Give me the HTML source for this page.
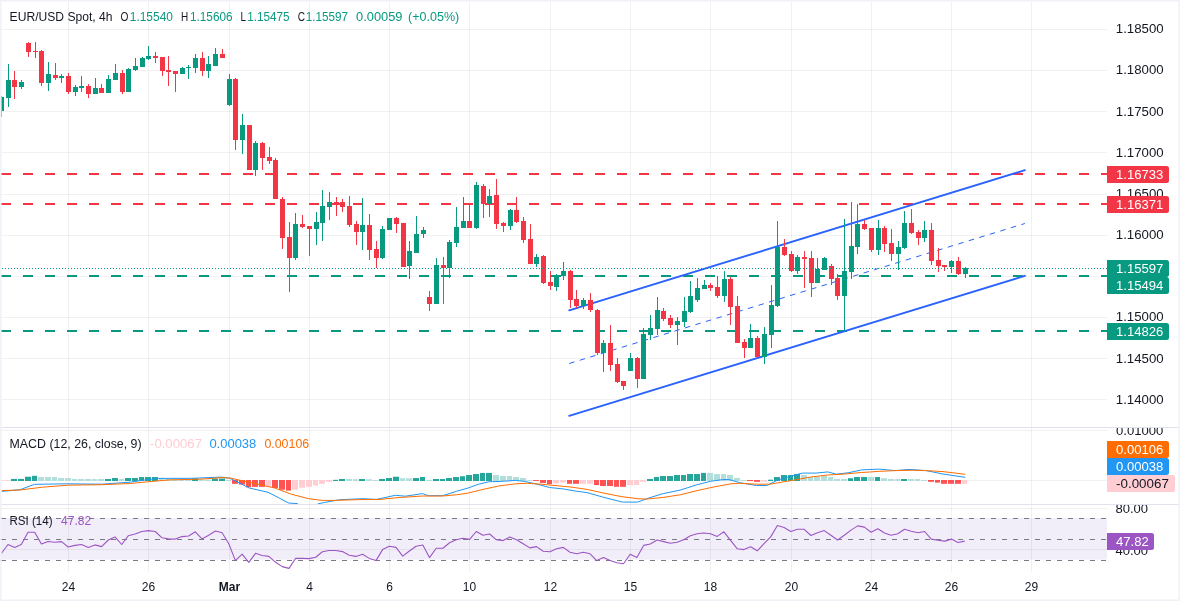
<!DOCTYPE html><html><head><meta charset="utf-8"><title>EUR/USD</title><style>html,body{margin:0;padding:0;background:#fff}body{width:1180px;height:601px;overflow:hidden;position:relative;font-family:"Liberation Sans",sans-serif}</style></head><body><svg width="1180" height="601" viewBox="0 0 1180 601" style="position:absolute;left:0;top:0;will-change:transform">
<defs>
<clipPath id="cm"><rect x="0" y="2" width="1107" height="425"/></clipPath>
<clipPath id="cd"><rect x="0" y="428" width="1107" height="76"/></clipPath>
<clipPath id="cr"><rect x="0" y="505" width="1107" height="67"/></clipPath>
<clipPath id="cs1"><rect x="1107" y="428" width="73" height="76"/></clipPath>
<clipPath id="cs2"><rect x="1107" y="505" width="73" height="67"/></clipPath>
</defs>
<rect width="1180" height="601" fill="#fff"/>
<g shape-rendering="crispEdges" fill="rgba(42,46,57,0.065)">
<rect x="68" y="2" width="1" height="570"/>
<rect x="148" y="2" width="1" height="570"/>
<rect x="229" y="2" width="1" height="570"/>
<rect x="309" y="2" width="1" height="570"/>
<rect x="389" y="2" width="1" height="570"/>
<rect x="469" y="2" width="1" height="570"/>
<rect x="550" y="2" width="1" height="570"/>
<rect x="630" y="2" width="1" height="570"/>
<rect x="710" y="2" width="1" height="570"/>
<rect x="791" y="2" width="1" height="570"/>
<rect x="871" y="2" width="1" height="570"/>
<rect x="951" y="2" width="1" height="570"/>
<rect x="1031" y="2" width="1" height="570"/>
<rect x="0" y="29" width="1107" height="1"/>
<rect x="0" y="70" width="1107" height="1"/>
<rect x="0" y="111" width="1107" height="1"/>
<rect x="0" y="152" width="1107" height="1"/>
<rect x="0" y="194" width="1107" height="1"/>
<rect x="0" y="235" width="1107" height="1"/>
<rect x="0" y="276" width="1107" height="1"/>
<rect x="0" y="317" width="1107" height="1"/>
<rect x="0" y="358" width="1107" height="1"/>
<rect x="0" y="399" width="1107" height="1"/>
<rect x="0" y="430" width="1107" height="1"/>
<rect x="0" y="480" width="1107" height="1"/>
<rect x="0" y="508" width="1107" height="1"/>
<rect x="0" y="549" width="1107" height="1"/>
</g>
<rect x="0" y="518" width="1107" height="41.6" fill="#f2eef9"/>
<rect x="0" y="549" width="1107" height="1" fill="rgba(42,46,57,0.065)" shape-rendering="crispEdges"/>
<g shape-rendering="crispEdges" fill="rgba(42,46,57,0.065)">
<rect x="68" y="518" width="1" height="42"/>
<rect x="148" y="518" width="1" height="42"/>
<rect x="229" y="518" width="1" height="42"/>
<rect x="309" y="518" width="1" height="42"/>
<rect x="389" y="518" width="1" height="42"/>
<rect x="469" y="518" width="1" height="42"/>
<rect x="550" y="518" width="1" height="42"/>
<rect x="630" y="518" width="1" height="42"/>
<rect x="710" y="518" width="1" height="42"/>
<rect x="791" y="518" width="1" height="42"/>
<rect x="871" y="518" width="1" height="42"/>
<rect x="951" y="518" width="1" height="42"/>
<rect x="1031" y="518" width="1" height="42"/>
</g>
<line x1="1" y1="518.5" x2="1107" y2="518.5" stroke="#787B86" stroke-width="1" stroke-dasharray="5 6" shape-rendering="crispEdges"/>
<line x1="1" y1="539.5" x2="1107" y2="539.5" stroke="#787B86" stroke-width="1" stroke-dasharray="5 6" shape-rendering="crispEdges"/>
<line x1="1" y1="560.5" x2="1107" y2="560.5" stroke="#787B86" stroke-width="1" stroke-dasharray="5 6" shape-rendering="crispEdges"/>
<line x1="1" y1="174" x2="1107" y2="174" stroke="#F23645" stroke-width="2" stroke-dasharray="10 12" shape-rendering="crispEdges"/>
<line x1="1" y1="204" x2="1107" y2="204" stroke="#F23645" stroke-width="2" stroke-dasharray="10 12" shape-rendering="crispEdges"/>
<line x1="1" y1="276" x2="1107" y2="276" stroke="#089981" stroke-width="2" stroke-dasharray="10 12" shape-rendering="crispEdges"/>
<line x1="1" y1="331" x2="1107" y2="331" stroke="#089981" stroke-width="2" stroke-dasharray="10 12" shape-rendering="crispEdges"/>
<g clip-path="url(#cm)">
<line x1="569.2" y1="310.3" x2="1024.9" y2="170.2" stroke="#2962FF" stroke-width="1.9" stroke-linecap="round"/>
<line x1="569.2" y1="415.8" x2="1024.9" y2="275.8" stroke="#2962FF" stroke-width="1.9" stroke-linecap="round"/>
<line x1="569.2" y1="363.5" x2="1024.9" y2="223.5" stroke="#2962FF" stroke-width="1" stroke-dasharray="5.5 5.5"/>
</g>
<g shape-rendering="crispEdges">
<rect x="1" y="96" width="1" height="21" fill="#089981"/>
<rect x="-1" y="97" width="5" height="14" fill="#089981"/>
<rect x="8" y="64" width="1" height="43" fill="#089981"/>
<rect x="6" y="80" width="5" height="18" fill="#089981"/>
<rect x="14" y="71" width="1" height="28" fill="#F23645"/>
<rect x="12" y="80" width="5" height="7" fill="#F23645"/>
<rect x="21" y="80" width="1" height="9" fill="#089981"/>
<rect x="19" y="82" width="5" height="5" fill="#089981"/>
<rect x="28" y="42" width="1" height="15" fill="#F23645"/>
<rect x="26" y="43" width="5" height="9" fill="#F23645"/>
<rect x="35" y="42" width="1" height="16" fill="#F23645"/>
<rect x="33" y="51" width="5" height="1" fill="#F23645"/>
<rect x="41" y="50" width="1" height="36" fill="#F23645"/>
<rect x="39" y="51" width="5" height="32" fill="#F23645"/>
<rect x="48" y="62" width="1" height="29" fill="#089981"/>
<rect x="46" y="74" width="5" height="9" fill="#089981"/>
<rect x="55" y="63" width="1" height="17" fill="#F23645"/>
<rect x="53" y="75" width="5" height="3" fill="#F23645"/>
<rect x="61" y="74" width="1" height="9" fill="#089981"/>
<rect x="59" y="76" width="5" height="2" fill="#089981"/>
<rect x="68" y="73" width="1" height="21" fill="#F23645"/>
<rect x="66" y="76" width="5" height="16" fill="#F23645"/>
<rect x="75" y="85" width="1" height="11" fill="#089981"/>
<rect x="73" y="87" width="5" height="5" fill="#089981"/>
<rect x="81" y="76" width="1" height="16" fill="#089981"/>
<rect x="79" y="86" width="5" height="2" fill="#089981"/>
<rect x="88" y="84" width="1" height="14" fill="#F23645"/>
<rect x="86" y="86" width="5" height="8" fill="#F23645"/>
<rect x="95" y="78" width="1" height="16" fill="#089981"/>
<rect x="93" y="88" width="5" height="6" fill="#089981"/>
<rect x="101" y="84" width="1" height="9" fill="#F23645"/>
<rect x="99" y="88" width="5" height="5" fill="#F23645"/>
<rect x="108" y="75" width="1" height="18" fill="#089981"/>
<rect x="106" y="79" width="5" height="14" fill="#089981"/>
<rect x="115" y="64" width="1" height="16" fill="#089981"/>
<rect x="113" y="73" width="5" height="7" fill="#089981"/>
<rect x="122" y="70" width="1" height="24" fill="#F23645"/>
<rect x="120" y="73" width="5" height="19" fill="#F23645"/>
<rect x="128" y="68" width="1" height="24" fill="#089981"/>
<rect x="126" y="69" width="5" height="23" fill="#089981"/>
<rect x="135" y="58" width="1" height="13" fill="#089981"/>
<rect x="133" y="66" width="5" height="4" fill="#089981"/>
<rect x="142" y="57" width="1" height="10" fill="#089981"/>
<rect x="140" y="58" width="5" height="9" fill="#089981"/>
<rect x="148" y="46" width="1" height="14" fill="#089981"/>
<rect x="146" y="56" width="5" height="3" fill="#089981"/>
<rect x="155" y="52" width="1" height="11" fill="#F23645"/>
<rect x="153" y="56" width="5" height="2" fill="#F23645"/>
<rect x="162" y="57" width="1" height="19" fill="#F23645"/>
<rect x="160" y="57" width="5" height="14" fill="#F23645"/>
<rect x="168" y="56" width="1" height="30" fill="#F23645"/>
<rect x="166" y="70" width="5" height="2" fill="#F23645"/>
<rect x="175" y="71" width="1" height="21" fill="#F23645"/>
<rect x="173" y="71" width="5" height="3" fill="#F23645"/>
<rect x="182" y="67" width="1" height="7" fill="#089981"/>
<rect x="180" y="68" width="5" height="6" fill="#089981"/>
<rect x="188" y="65" width="1" height="14" fill="#089981"/>
<rect x="186" y="67" width="5" height="1" fill="#089981"/>
<rect x="195" y="54" width="1" height="19" fill="#089981"/>
<rect x="193" y="58" width="5" height="10" fill="#089981"/>
<rect x="202" y="52" width="1" height="24" fill="#F23645"/>
<rect x="200" y="58" width="5" height="13" fill="#F23645"/>
<rect x="208" y="56" width="1" height="22" fill="#089981"/>
<rect x="206" y="64" width="5" height="7" fill="#089981"/>
<rect x="215" y="48" width="1" height="18" fill="#089981"/>
<rect x="213" y="54" width="5" height="12" fill="#089981"/>
<rect x="222" y="49" width="1" height="9" fill="#F23645"/>
<rect x="220" y="54" width="5" height="4" fill="#F23645"/>
<rect x="229" y="74" width="1" height="32" fill="#089981"/>
<rect x="227" y="79" width="5" height="26" fill="#089981"/>
<rect x="235" y="78" width="1" height="72" fill="#F23645"/>
<rect x="233" y="79" width="5" height="61" fill="#F23645"/>
<rect x="242" y="114" width="1" height="40" fill="#089981"/>
<rect x="240" y="125" width="5" height="15" fill="#089981"/>
<rect x="249" y="125" width="1" height="45" fill="#F23645"/>
<rect x="247" y="125" width="5" height="45" fill="#F23645"/>
<rect x="255" y="141" width="1" height="35" fill="#089981"/>
<rect x="253" y="143" width="5" height="27" fill="#089981"/>
<rect x="262" y="142" width="1" height="28" fill="#F23645"/>
<rect x="260" y="143" width="5" height="15" fill="#F23645"/>
<rect x="269" y="147" width="1" height="17" fill="#F23645"/>
<rect x="267" y="157" width="5" height="4" fill="#F23645"/>
<rect x="275" y="158" width="1" height="41" fill="#F23645"/>
<rect x="273" y="160" width="5" height="39" fill="#F23645"/>
<rect x="282" y="197" width="1" height="52" fill="#F23645"/>
<rect x="280" y="199" width="5" height="39" fill="#F23645"/>
<rect x="289" y="222" width="1" height="70" fill="#F23645"/>
<rect x="287" y="237" width="5" height="21" fill="#F23645"/>
<rect x="295" y="213" width="1" height="47" fill="#089981"/>
<rect x="293" y="224" width="5" height="34" fill="#089981"/>
<rect x="302" y="215" width="1" height="13" fill="#F23645"/>
<rect x="300" y="224" width="5" height="3" fill="#F23645"/>
<rect x="309" y="226" width="1" height="30" fill="#F23645"/>
<rect x="307" y="226" width="5" height="3" fill="#F23645"/>
<rect x="316" y="212" width="1" height="33" fill="#089981"/>
<rect x="314" y="222" width="5" height="7" fill="#089981"/>
<rect x="322" y="190" width="1" height="51" fill="#089981"/>
<rect x="320" y="206" width="5" height="17" fill="#089981"/>
<rect x="329" y="192" width="1" height="28" fill="#089981"/>
<rect x="327" y="202" width="5" height="5" fill="#089981"/>
<rect x="336" y="197" width="1" height="19" fill="#F23645"/>
<rect x="334" y="202" width="5" height="3" fill="#F23645"/>
<rect x="342" y="199" width="1" height="13" fill="#F23645"/>
<rect x="340" y="202" width="5" height="5" fill="#F23645"/>
<rect x="349" y="196" width="1" height="31" fill="#F23645"/>
<rect x="347" y="206" width="5" height="19" fill="#F23645"/>
<rect x="356" y="221" width="1" height="24" fill="#F23645"/>
<rect x="354" y="224" width="5" height="8" fill="#F23645"/>
<rect x="362" y="198" width="1" height="52" fill="#089981"/>
<rect x="360" y="225" width="5" height="7" fill="#089981"/>
<rect x="369" y="214" width="1" height="46" fill="#F23645"/>
<rect x="367" y="225" width="5" height="25" fill="#F23645"/>
<rect x="376" y="241" width="1" height="27" fill="#F23645"/>
<rect x="374" y="249" width="5" height="9" fill="#F23645"/>
<rect x="382" y="226" width="1" height="33" fill="#089981"/>
<rect x="380" y="229" width="5" height="29" fill="#089981"/>
<rect x="389" y="218" width="1" height="12" fill="#089981"/>
<rect x="387" y="218" width="5" height="12" fill="#089981"/>
<rect x="396" y="217" width="1" height="16" fill="#F23645"/>
<rect x="394" y="218" width="5" height="6" fill="#F23645"/>
<rect x="403" y="223" width="1" height="44" fill="#F23645"/>
<rect x="401" y="223" width="5" height="44" fill="#F23645"/>
<rect x="409" y="241" width="1" height="38" fill="#089981"/>
<rect x="407" y="251" width="5" height="15" fill="#089981"/>
<rect x="416" y="216" width="1" height="37" fill="#089981"/>
<rect x="414" y="234" width="5" height="19" fill="#089981"/>
<rect x="423" y="227" width="1" height="11" fill="#089981"/>
<rect x="421" y="230" width="5" height="4" fill="#089981"/>
<rect x="429" y="291" width="1" height="20" fill="#F23645"/>
<rect x="427" y="297" width="5" height="7" fill="#F23645"/>
<rect x="436" y="258" width="1" height="46" fill="#089981"/>
<rect x="434" y="265" width="5" height="39" fill="#089981"/>
<rect x="443" y="257" width="1" height="47" fill="#F23645"/>
<rect x="441" y="265" width="5" height="3" fill="#F23645"/>
<rect x="449" y="240" width="1" height="38" fill="#089981"/>
<rect x="447" y="242" width="5" height="26" fill="#089981"/>
<rect x="456" y="207" width="1" height="40" fill="#089981"/>
<rect x="454" y="227" width="5" height="16" fill="#089981"/>
<rect x="463" y="197" width="1" height="31" fill="#089981"/>
<rect x="461" y="221" width="5" height="7" fill="#089981"/>
<rect x="469" y="204" width="1" height="24" fill="#F23645"/>
<rect x="467" y="221" width="5" height="7" fill="#F23645"/>
<rect x="476" y="182" width="1" height="47" fill="#089981"/>
<rect x="474" y="185" width="5" height="43" fill="#089981"/>
<rect x="483" y="184" width="1" height="34" fill="#F23645"/>
<rect x="481" y="186" width="5" height="18" fill="#F23645"/>
<rect x="489" y="189" width="1" height="28" fill="#089981"/>
<rect x="487" y="196" width="5" height="8" fill="#089981"/>
<rect x="496" y="179" width="1" height="50" fill="#F23645"/>
<rect x="494" y="195" width="5" height="29" fill="#F23645"/>
<rect x="503" y="222" width="1" height="10" fill="#F23645"/>
<rect x="501" y="223" width="5" height="3" fill="#F23645"/>
<rect x="510" y="209" width="1" height="21" fill="#089981"/>
<rect x="508" y="210" width="5" height="16" fill="#089981"/>
<rect x="516" y="197" width="1" height="26" fill="#F23645"/>
<rect x="514" y="210" width="5" height="12" fill="#F23645"/>
<rect x="523" y="217" width="1" height="26" fill="#F23645"/>
<rect x="521" y="221" width="5" height="19" fill="#F23645"/>
<rect x="530" y="224" width="1" height="40" fill="#F23645"/>
<rect x="528" y="239" width="5" height="25" fill="#F23645"/>
<rect x="536" y="254" width="1" height="13" fill="#089981"/>
<rect x="534" y="257" width="5" height="7" fill="#089981"/>
<rect x="543" y="255" width="1" height="29" fill="#F23645"/>
<rect x="541" y="256" width="5" height="27" fill="#F23645"/>
<rect x="550" y="271" width="1" height="19" fill="#F23645"/>
<rect x="548" y="282" width="5" height="4" fill="#F23645"/>
<rect x="556" y="274" width="1" height="17" fill="#089981"/>
<rect x="554" y="275" width="5" height="12" fill="#089981"/>
<rect x="563" y="262" width="1" height="18" fill="#089981"/>
<rect x="561" y="271" width="5" height="5" fill="#089981"/>
<rect x="570" y="270" width="1" height="38" fill="#F23645"/>
<rect x="568" y="271" width="5" height="29" fill="#F23645"/>
<rect x="576" y="290" width="1" height="18" fill="#F23645"/>
<rect x="574" y="299" width="5" height="7" fill="#F23645"/>
<rect x="583" y="298" width="1" height="11" fill="#089981"/>
<rect x="581" y="300" width="5" height="6" fill="#089981"/>
<rect x="590" y="293" width="1" height="19" fill="#F23645"/>
<rect x="588" y="300" width="5" height="10" fill="#F23645"/>
<rect x="597" y="309" width="1" height="46" fill="#F23645"/>
<rect x="595" y="310" width="5" height="43" fill="#F23645"/>
<rect x="603" y="340" width="1" height="32" fill="#089981"/>
<rect x="601" y="343" width="5" height="10" fill="#089981"/>
<rect x="610" y="325" width="1" height="46" fill="#F23645"/>
<rect x="608" y="343" width="5" height="22" fill="#F23645"/>
<rect x="617" y="358" width="1" height="25" fill="#F23645"/>
<rect x="615" y="364" width="5" height="18" fill="#F23645"/>
<rect x="623" y="381" width="1" height="9" fill="#F23645"/>
<rect x="621" y="381" width="5" height="5" fill="#F23645"/>
<rect x="630" y="353" width="1" height="18" fill="#089981"/>
<rect x="628" y="358" width="5" height="13" fill="#089981"/>
<rect x="637" y="357" width="1" height="31" fill="#F23645"/>
<rect x="635" y="358" width="5" height="21" fill="#F23645"/>
<rect x="643" y="328" width="1" height="51" fill="#089981"/>
<rect x="641" y="334" width="5" height="45" fill="#089981"/>
<rect x="650" y="315" width="1" height="25" fill="#089981"/>
<rect x="648" y="328" width="5" height="7" fill="#089981"/>
<rect x="657" y="297" width="1" height="38" fill="#089981"/>
<rect x="655" y="310" width="5" height="19" fill="#089981"/>
<rect x="663" y="308" width="1" height="13" fill="#F23645"/>
<rect x="661" y="311" width="5" height="8" fill="#F23645"/>
<rect x="670" y="315" width="1" height="13" fill="#F23645"/>
<rect x="668" y="318" width="5" height="7" fill="#F23645"/>
<rect x="677" y="317" width="1" height="28" fill="#089981"/>
<rect x="675" y="321" width="5" height="4" fill="#089981"/>
<rect x="684" y="297" width="1" height="30" fill="#089981"/>
<rect x="682" y="311" width="5" height="11" fill="#089981"/>
<rect x="690" y="281" width="1" height="32" fill="#089981"/>
<rect x="688" y="296" width="5" height="16" fill="#089981"/>
<rect x="697" y="278" width="1" height="24" fill="#089981"/>
<rect x="695" y="288" width="5" height="12" fill="#089981"/>
<rect x="704" y="280" width="1" height="9" fill="#089981"/>
<rect x="702" y="285" width="5" height="4" fill="#089981"/>
<rect x="710" y="283" width="1" height="8" fill="#F23645"/>
<rect x="708" y="285" width="5" height="3" fill="#F23645"/>
<rect x="717" y="276" width="1" height="22" fill="#F23645"/>
<rect x="715" y="287" width="5" height="9" fill="#F23645"/>
<rect x="724" y="271" width="1" height="31" fill="#089981"/>
<rect x="722" y="279" width="5" height="17" fill="#089981"/>
<rect x="730" y="277" width="1" height="48" fill="#F23645"/>
<rect x="728" y="279" width="5" height="28" fill="#F23645"/>
<rect x="737" y="296" width="1" height="47" fill="#F23645"/>
<rect x="735" y="306" width="5" height="37" fill="#F23645"/>
<rect x="744" y="339" width="1" height="19" fill="#F23645"/>
<rect x="742" y="342" width="5" height="6" fill="#F23645"/>
<rect x="750" y="324" width="1" height="24" fill="#089981"/>
<rect x="748" y="338" width="5" height="10" fill="#089981"/>
<rect x="757" y="336" width="1" height="21" fill="#F23645"/>
<rect x="755" y="338" width="5" height="19" fill="#F23645"/>
<rect x="764" y="327" width="1" height="37" fill="#089981"/>
<rect x="762" y="334" width="5" height="23" fill="#089981"/>
<rect x="771" y="285" width="1" height="63" fill="#089981"/>
<rect x="769" y="305" width="5" height="30" fill="#089981"/>
<rect x="777" y="221" width="1" height="86" fill="#089981"/>
<rect x="775" y="247" width="5" height="59" fill="#089981"/>
<rect x="784" y="239" width="1" height="17" fill="#F23645"/>
<rect x="782" y="247" width="5" height="8" fill="#F23645"/>
<rect x="791" y="251" width="1" height="21" fill="#F23645"/>
<rect x="789" y="254" width="5" height="17" fill="#F23645"/>
<rect x="797" y="255" width="1" height="19" fill="#089981"/>
<rect x="795" y="257" width="5" height="14" fill="#089981"/>
<rect x="804" y="251" width="1" height="37" fill="#F23645"/>
<rect x="802" y="257" width="5" height="2" fill="#F23645"/>
<rect x="811" y="251" width="1" height="46" fill="#F23645"/>
<rect x="809" y="258" width="5" height="25" fill="#F23645"/>
<rect x="817" y="258" width="1" height="25" fill="#089981"/>
<rect x="815" y="269" width="5" height="14" fill="#089981"/>
<rect x="824" y="257" width="1" height="13" fill="#089981"/>
<rect x="822" y="258" width="5" height="12" fill="#089981"/>
<rect x="831" y="264" width="1" height="21" fill="#F23645"/>
<rect x="829" y="266" width="5" height="13" fill="#F23645"/>
<rect x="837" y="274" width="1" height="26" fill="#F23645"/>
<rect x="835" y="278" width="5" height="18" fill="#F23645"/>
<rect x="844" y="219" width="1" height="112" fill="#089981"/>
<rect x="842" y="271" width="5" height="25" fill="#089981"/>
<rect x="851" y="202" width="1" height="77" fill="#089981"/>
<rect x="849" y="246" width="5" height="26" fill="#089981"/>
<rect x="857" y="204" width="1" height="50" fill="#089981"/>
<rect x="855" y="224" width="5" height="23" fill="#089981"/>
<rect x="864" y="220" width="1" height="10" fill="#F23645"/>
<rect x="862" y="224" width="5" height="5" fill="#F23645"/>
<rect x="871" y="228" width="1" height="24" fill="#F23645"/>
<rect x="869" y="228" width="5" height="22" fill="#F23645"/>
<rect x="878" y="220" width="1" height="35" fill="#089981"/>
<rect x="876" y="228" width="5" height="22" fill="#089981"/>
<rect x="884" y="226" width="1" height="26" fill="#F23645"/>
<rect x="882" y="228" width="5" height="16" fill="#F23645"/>
<rect x="891" y="229" width="1" height="32" fill="#F23645"/>
<rect x="889" y="243" width="5" height="11" fill="#F23645"/>
<rect x="898" y="241" width="1" height="29" fill="#089981"/>
<rect x="896" y="247" width="5" height="7" fill="#089981"/>
<rect x="904" y="211" width="1" height="38" fill="#089981"/>
<rect x="902" y="223" width="5" height="25" fill="#089981"/>
<rect x="911" y="209" width="1" height="25" fill="#F23645"/>
<rect x="909" y="223" width="5" height="10" fill="#F23645"/>
<rect x="918" y="230" width="1" height="15" fill="#F23645"/>
<rect x="916" y="232" width="5" height="6" fill="#F23645"/>
<rect x="924" y="221" width="1" height="21" fill="#089981"/>
<rect x="922" y="230" width="5" height="8" fill="#089981"/>
<rect x="931" y="223" width="1" height="42" fill="#F23645"/>
<rect x="929" y="230" width="5" height="31" fill="#F23645"/>
<rect x="938" y="248" width="1" height="24" fill="#F23645"/>
<rect x="936" y="260" width="5" height="6" fill="#F23645"/>
<rect x="944" y="265" width="1" height="6" fill="#F23645"/>
<rect x="942" y="265" width="5" height="2" fill="#F23645"/>
<rect x="951" y="260" width="1" height="13" fill="#089981"/>
<rect x="949" y="261" width="5" height="6" fill="#089981"/>
<rect x="958" y="257" width="1" height="18" fill="#F23645"/>
<rect x="956" y="261" width="5" height="13" fill="#F23645"/>
<rect x="965" y="267" width="1" height="11" fill="#089981"/>
<rect x="963" y="268" width="5" height="6" fill="#089981"/>
</g>
<line x1="2" y1="268.5" x2="1107" y2="268.5" stroke="#089981" stroke-width="1" stroke-dasharray="1 2" shape-rendering="crispEdges"/>
<g clip-path="url(#cd)">
<rect x="-2" y="480" width="6" height="0.82" fill="#FFCDD2"/>
<rect x="5" y="480" width="5" height="0.72" fill="#FFCDD2"/>
<rect x="11" y="478.92" width="6" height="2.08" fill="#26A69A"/>
<rect x="18" y="478.92" width="6" height="2.08" fill="#26A69A"/>
<rect x="25" y="476.72" width="6" height="4.28" fill="#26A69A"/>
<rect x="32" y="475.82" width="5" height="5.18" fill="#26A69A"/>
<rect x="38" y="477.02" width="6" height="3.98" fill="#B2DFDB"/>
<rect x="45" y="477.02" width="6" height="3.98" fill="#B2DFDB"/>
<rect x="52" y="477.02" width="5" height="3.98" fill="#B2DFDB"/>
<rect x="58" y="478.02" width="6" height="2.98" fill="#B2DFDB"/>
<rect x="65" y="478.02" width="6" height="2.98" fill="#B2DFDB"/>
<rect x="72" y="479.02" width="5" height="1.98" fill="#B2DFDB"/>
<rect x="78" y="479.02" width="6" height="1.98" fill="#B2DFDB"/>
<rect x="85" y="479.02" width="6" height="1.98" fill="#B2DFDB"/>
<rect x="92" y="479.02" width="5" height="1.98" fill="#B2DFDB"/>
<rect x="98" y="479.02" width="6" height="1.98" fill="#B2DFDB"/>
<rect x="105" y="479.02" width="6" height="1.98" fill="#26A69A"/>
<rect x="112" y="478.02" width="6" height="2.98" fill="#26A69A"/>
<rect x="119" y="479.02" width="5" height="1.98" fill="#B2DFDB"/>
<rect x="125" y="478.02" width="6" height="2.98" fill="#26A69A"/>
<rect x="132" y="478.02" width="6" height="2.98" fill="#26A69A"/>
<rect x="139" y="477.02" width="5" height="3.98" fill="#26A69A"/>
<rect x="145" y="477.02" width="6" height="3.98" fill="#26A69A"/>
<rect x="152" y="477.02" width="6" height="3.98" fill="#26A69A"/>
<rect x="159" y="477.92" width="5" height="3.08" fill="#B2DFDB"/>
<rect x="165" y="478.92" width="6" height="2.08" fill="#B2DFDB"/>
<rect x="172" y="479.42" width="6" height="1.58" fill="#B2DFDB"/>
<rect x="179" y="479.62" width="5" height="1.38" fill="#B2DFDB"/>
<rect x="185" y="479.82" width="6" height="1.18" fill="#B2DFDB"/>
<rect x="192" y="478.52" width="6" height="2.48" fill="#26A69A"/>
<rect x="199" y="479.42" width="5" height="1.58" fill="#B2DFDB"/>
<rect x="205" y="479.62" width="6" height="1.38" fill="#B2DFDB"/>
<rect x="212" y="478.52" width="6" height="2.48" fill="#26A69A"/>
<rect x="219" y="478.52" width="6" height="2.48" fill="#26A69A"/>
<rect x="226" y="479.92" width="5" height="1.08" fill="#B2DFDB"/>
<rect x="232" y="480" width="6" height="3.82" fill="#FF5252"/>
<rect x="239" y="480" width="6" height="4.62" fill="#FF5252"/>
<rect x="246" y="480" width="5" height="7.22" fill="#FF5252"/>
<rect x="252" y="480" width="6" height="6.82" fill="#FF5252"/>
<rect x="259" y="480" width="6" height="6.82" fill="#FF5252"/>
<rect x="266" y="480" width="5" height="6.32" fill="#FFCDD2"/>
<rect x="272" y="480" width="6" height="8.02" fill="#FF5252"/>
<rect x="279" y="480" width="6" height="9.72" fill="#FF5252"/>
<rect x="286" y="480" width="5" height="10.62" fill="#FF5252"/>
<rect x="292" y="480" width="6" height="9.72" fill="#FFCDD2"/>
<rect x="299" y="480" width="6" height="7.72" fill="#FFCDD2"/>
<rect x="306" y="480" width="6" height="6.82" fill="#FFCDD2"/>
<rect x="313" y="480" width="5" height="5.52" fill="#FFCDD2"/>
<rect x="319" y="480" width="6" height="3.82" fill="#FFCDD2"/>
<rect x="326" y="480" width="6" height="1.82" fill="#FFCDD2"/>
<rect x="333" y="479.82" width="5" height="1.18" fill="#26A69A"/>
<rect x="339" y="479.02" width="6" height="1.98" fill="#26A69A"/>
<rect x="346" y="479.02" width="6" height="1.98" fill="#B2DFDB"/>
<rect x="353" y="479.22" width="5" height="1.78" fill="#B2DFDB"/>
<rect x="359" y="479.02" width="6" height="1.98" fill="#26A69A"/>
<rect x="366" y="479.22" width="6" height="1.78" fill="#B2DFDB"/>
<rect x="373" y="480.02" width="5" height="0.98" fill="#B2DFDB"/>
<rect x="379" y="479.02" width="6" height="1.98" fill="#26A69A"/>
<rect x="386" y="478.02" width="6" height="2.98" fill="#26A69A"/>
<rect x="393" y="476.72" width="6" height="4.28" fill="#26A69A"/>
<rect x="400" y="478.22" width="5" height="2.78" fill="#B2DFDB"/>
<rect x="406" y="478.22" width="6" height="2.78" fill="#B2DFDB"/>
<rect x="413" y="478.02" width="6" height="2.98" fill="#26A69A"/>
<rect x="420" y="477.02" width="5" height="3.98" fill="#26A69A"/>
<rect x="426" y="480.02" width="6" height="0.98" fill="#B2DFDB"/>
<rect x="433" y="479.02" width="6" height="1.98" fill="#26A69A"/>
<rect x="440" y="479.02" width="5" height="1.98" fill="#26A69A"/>
<rect x="446" y="478.02" width="6" height="2.98" fill="#26A69A"/>
<rect x="453" y="477.02" width="6" height="3.98" fill="#26A69A"/>
<rect x="460" y="476.22" width="5" height="4.78" fill="#26A69A"/>
<rect x="466" y="475.02" width="6" height="5.98" fill="#26A69A"/>
<rect x="473" y="474.02" width="6" height="6.98" fill="#26A69A"/>
<rect x="480" y="472.92" width="5" height="8.08" fill="#26A69A"/>
<rect x="486" y="472.92" width="6" height="8.08" fill="#26A69A"/>
<rect x="493" y="475.02" width="6" height="5.98" fill="#B2DFDB"/>
<rect x="500" y="476.02" width="6" height="4.98" fill="#B2DFDB"/>
<rect x="507" y="476.02" width="5" height="4.98" fill="#B2DFDB"/>
<rect x="513" y="477.02" width="6" height="3.98" fill="#B2DFDB"/>
<rect x="520" y="478.02" width="6" height="2.98" fill="#B2DFDB"/>
<rect x="527" y="479.92" width="5" height="1.08" fill="#B2DFDB"/>
<rect x="533" y="480" width="6" height="0.92" fill="#FF5252"/>
<rect x="540" y="480" width="6" height="2.92" fill="#FF5252"/>
<rect x="547" y="480" width="5" height="4.12" fill="#FF5252"/>
<rect x="553" y="480" width="6" height="3.42" fill="#FFCDD2"/>
<rect x="560" y="480" width="6" height="2.62" fill="#FFCDD2"/>
<rect x="567" y="480" width="5" height="3.82" fill="#FF5252"/>
<rect x="573" y="480" width="6" height="3.82" fill="#FF5252"/>
<rect x="580" y="480" width="6" height="3.82" fill="#FFCDD2"/>
<rect x="587" y="480" width="6" height="3.82" fill="#FFCDD2"/>
<rect x="594" y="480" width="5" height="5.02" fill="#FF5252"/>
<rect x="600" y="480" width="6" height="6.02" fill="#FF5252"/>
<rect x="607" y="480" width="6" height="6.02" fill="#FF5252"/>
<rect x="614" y="480" width="5" height="6.82" fill="#FF5252"/>
<rect x="620" y="480" width="6" height="6.82" fill="#FF5252"/>
<rect x="627" y="480" width="6" height="5.02" fill="#FFCDD2"/>
<rect x="634" y="480" width="5" height="5.02" fill="#FFCDD2"/>
<rect x="640" y="480" width="6" height="1.82" fill="#FFCDD2"/>
<rect x="647" y="479.02" width="6" height="1.98" fill="#26A69A"/>
<rect x="654" y="477.02" width="5" height="3.98" fill="#26A69A"/>
<rect x="660" y="476.02" width="6" height="4.98" fill="#26A69A"/>
<rect x="667" y="476.02" width="6" height="4.98" fill="#26A69A"/>
<rect x="674" y="475.02" width="6" height="5.98" fill="#26A69A"/>
<rect x="681" y="475.02" width="5" height="5.98" fill="#26A69A"/>
<rect x="687" y="474.02" width="6" height="6.98" fill="#26A69A"/>
<rect x="694" y="474.02" width="6" height="6.98" fill="#26A69A"/>
<rect x="701" y="472.92" width="5" height="8.08" fill="#26A69A"/>
<rect x="707" y="472.92" width="6" height="8.08" fill="#B2DFDB"/>
<rect x="714" y="474.02" width="6" height="6.98" fill="#B2DFDB"/>
<rect x="721" y="474.02" width="5" height="6.98" fill="#B2DFDB"/>
<rect x="727" y="475.02" width="6" height="5.98" fill="#B2DFDB"/>
<rect x="734" y="477.92" width="6" height="3.08" fill="#B2DFDB"/>
<rect x="741" y="480.02" width="5" height="0.98" fill="#B2DFDB"/>
<rect x="747" y="480" width="6" height="1.02" fill="#FF5252"/>
<rect x="754" y="480" width="6" height="1.82" fill="#FF5252"/>
<rect x="761" y="480" width="6" height="1.72" fill="#FFCDD2"/>
<rect x="768" y="479.72" width="5" height="1.28" fill="#26A69A"/>
<rect x="774" y="477.02" width="6" height="3.98" fill="#26A69A"/>
<rect x="781" y="475.02" width="6" height="5.98" fill="#26A69A"/>
<rect x="788" y="475.02" width="5" height="5.98" fill="#26A69A"/>
<rect x="794" y="474.02" width="6" height="6.98" fill="#26A69A"/>
<rect x="801" y="475.02" width="6" height="5.98" fill="#B2DFDB"/>
<rect x="808" y="477.02" width="5" height="3.98" fill="#B2DFDB"/>
<rect x="814" y="476.72" width="6" height="4.28" fill="#B2DFDB"/>
<rect x="821" y="476.02" width="6" height="4.98" fill="#B2DFDB"/>
<rect x="828" y="477.02" width="5" height="3.98" fill="#B2DFDB"/>
<rect x="834" y="479.02" width="6" height="1.98" fill="#B2DFDB"/>
<rect x="841" y="479.02" width="6" height="1.98" fill="#B2DFDB"/>
<rect x="848" y="478.22" width="5" height="2.78" fill="#26A69A"/>
<rect x="854" y="477.02" width="6" height="3.98" fill="#26A69A"/>
<rect x="861" y="477.02" width="6" height="3.98" fill="#26A69A"/>
<rect x="868" y="477.02" width="6" height="3.98" fill="#B2DFDB"/>
<rect x="875" y="477.02" width="5" height="3.98" fill="#26A69A"/>
<rect x="881" y="478.22" width="6" height="2.78" fill="#B2DFDB"/>
<rect x="888" y="479.02" width="6" height="1.98" fill="#B2DFDB"/>
<rect x="895" y="479.02" width="5" height="1.98" fill="#B2DFDB"/>
<rect x="901" y="479.02" width="6" height="1.98" fill="#26A69A"/>
<rect x="908" y="479.02" width="6" height="1.98" fill="#B2DFDB"/>
<rect x="915" y="479.02" width="5" height="1.98" fill="#B2DFDB"/>
<rect x="921" y="479.92" width="6" height="1.08" fill="#B2DFDB"/>
<rect x="928" y="480" width="6" height="1.82" fill="#FF5252"/>
<rect x="935" y="480" width="5" height="2.62" fill="#FF5252"/>
<rect x="941" y="480" width="6" height="3.82" fill="#FF5252"/>
<rect x="948" y="480" width="6" height="3.82" fill="#FF5252"/>
<rect x="955" y="480" width="6" height="3.82" fill="#FF5252"/>
<rect x="962" y="480" width="5" height="3.82" fill="#FFCDD2"/>
<polyline points="1.7,491.4 20.0,489.7 34.7,484.3 68.0,483.8 101.7,484.2 130.5,482.1 147.5,479.6 158.5,478.4 192.2,478.3 221.0,477.1 229.5,478.1 237.5,482.1 249.3,488.0 268.0,492.3 278.1,497.4 285.0,501.2 289.0,503.1 297.5,503.6 300.0,506.0 314.0,506.0 318.5,503.7 324.4,502.5 332.0,501.1 340.5,499.7 362.9,498.7 376.4,499.4 383.0,498.0 395.3,495.3 405.4,496.2 422.4,493.6 428.3,495.7 442.7,495.7 456.3,491.4 468.1,488.0 478.3,484.3 488.5,481.8 502.0,481.3 515.6,480.4 524.0,481.3 537.6,484.3 549.5,487.5 563.0,488.9 575.0,491.0 587.0,492.6 603.9,497.4 622.5,502.1 637.8,502.1 649.7,497.7 663.2,493.6 680.2,490.1 697.1,484.7 710.7,481.3 722.5,479.6 729.3,479.6 739.5,482.6 756.4,485.5 766.8,485.5 777.0,480.4 790.5,476.2 802.4,473.1 816.0,473.1 827.8,471.9 836.3,474.2 848.1,472.8 861.7,469.9 878.6,469.1 895.6,470.6 909.2,469.4 926.1,470.6 943.0,474.0 965.3,477.4" fill="none" stroke="#2196F3" stroke-width="1.0" stroke-linejoin="round"/>
<polyline points="1.7,490.6 20.0,490.0 42.4,487.2 68.0,485.2 101.7,484.7 130.5,483.5 147.5,481.8 169.5,479.9 200.0,479.2 222.2,477.6 230.7,478.2 240.8,480.4 257.8,484.2 274.7,488.0 291.7,494.3 308.6,498.7 322.2,500.4 334.0,500.4 359.5,499.6 380.0,499.4 397.0,497.7 422.4,496.0 442.7,496.0 456.3,494.8 468.1,493.1 481.7,489.7 498.6,486.0 515.6,483.8 527.5,483.3 541.0,484.2 558.0,485.8 572.0,487.2 587.0,489.4 603.9,493.1 620.8,496.5 637.8,498.7 646.3,499.1 663.2,497.4 680.2,494.8 697.1,490.6 714.1,486.9 731.0,483.8 739.5,483.3 756.4,484.2 770.2,484.2 782.0,482.1 793.9,480.1 810.8,477.0 827.8,475.0 844.7,474.0 861.7,472.5 878.6,471.4 895.6,470.6 912.5,470.3 926.1,470.6 943.0,471.6 965.3,474.3" fill="none" stroke="#FF6D00" stroke-width="1.0" stroke-linejoin="round"/>
</g>
<g clip-path="url(#cr)">
<polyline points="1.3,553.5 8.0,544.5 14.7,547.4 21.3,544.5 28.0,532.3 34.7,532.3 41.4,544.0 48.1,541.5 54.8,542.3 61.5,541.6 68.2,547.0 74.9,545.4 81.6,544.5 88.3,547.4 94.9,544.9 101.6,546.6 108.3,540.0 115.0,536.9 121.7,544.5 128.4,535.7 135.1,534.0 141.8,531.5 148.5,530.6 155.2,531.5 161.8,537.7 168.5,538.9 175.2,539.1 181.9,536.6 188.6,536.0 195.3,531.8 202.0,538.9 208.7,535.2 215.4,531.0 222.1,532.7 228.8,543.7 235.4,560.6 242.1,554.2 248.8,562.3 255.5,553.3 262.2,555.5 268.9,556.4 275.6,562.3 282.3,566.6 289.0,568.4 295.7,558.3 302.4,558.4 309.0,558.6 315.7,557.2 322.4,551.8 329.1,550.5 335.8,550.5 342.5,551.6 349.2,555.2 355.9,556.4 362.6,554.2 369.3,558.4 376.0,560.6 382.6,549.6 389.3,546.2 396.0,547.4 402.7,556.1 409.4,551.0 416.1,546.2 422.8,545.0 429.5,557.6 436.2,548.3 442.9,548.3 449.6,542.8 456.2,539.8 462.9,538.3 469.6,539.4 476.3,531.5 483.0,535.2 489.7,534.0 496.4,539.8 503.1,540.6 509.8,536.9 516.5,539.8 523.2,543.7 529.8,547.9 536.5,546.6 543.2,551.3 549.9,551.8 556.6,548.8 563.3,547.4 570.0,552.2 576.7,553.8 583.4,552.2 590.1,553.8 596.7,560.6 603.4,557.6 610.1,560.6 616.8,562.8 623.5,563.7 630.2,554.2 636.9,557.6 643.6,545.4 650.3,544.0 657.0,540.0 663.7,541.6 670.3,543.2 677.0,542.3 683.7,539.8 690.4,535.7 697.1,533.8 703.8,533.0 710.5,533.8 717.2,536.4 723.9,531.8 730.6,540.3 737.3,548.8 743.9,549.6 750.6,546.7 757.3,550.8 764.0,543.7 770.7,536.9 777.4,525.5 784.1,527.6 790.8,531.5 797.5,529.3 804.2,529.3 810.9,535.5 817.5,532.7 824.2,530.6 830.9,535.2 837.6,540.0 844.3,535.2 851.0,530.1 857.7,525.9 864.4,527.1 871.1,532.3 877.8,528.8 884.5,533.0 891.1,535.2 897.8,533.8 904.5,529.3 911.2,531.3 917.9,532.7 924.6,531.5 931.3,539.1 938.0,540.3 944.7,541.1 951.4,539.1 958.0,542.5 964.7,541.1" fill="none" stroke="#9C56C4" stroke-width="1.1" stroke-linejoin="round"/>
</g>
<rect x="0" y="427" width="1180" height="1" fill="#e0e3eb" shape-rendering="crispEdges"/>
<rect x="0" y="504" width="1180" height="1" fill="#e0e3eb" shape-rendering="crispEdges"/>
<text x="1115.8" y="33.3" font-family="Liberation Sans, sans-serif" font-size="12" fill="#131722" letter-spacing="0" text-anchor="start" font-weight="normal" textLength="47.8" lengthAdjust="spacingAndGlyphs" >1.18500</text>
<text x="1115.8" y="74.45" font-family="Liberation Sans, sans-serif" font-size="12" fill="#131722" letter-spacing="0" text-anchor="start" font-weight="normal" textLength="47.8" lengthAdjust="spacingAndGlyphs" >1.18000</text>
<text x="1115.8" y="115.6" font-family="Liberation Sans, sans-serif" font-size="12" fill="#131722" letter-spacing="0" text-anchor="start" font-weight="normal" textLength="47.8" lengthAdjust="spacingAndGlyphs" >1.17500</text>
<text x="1115.8" y="156.75" font-family="Liberation Sans, sans-serif" font-size="12" fill="#131722" letter-spacing="0" text-anchor="start" font-weight="normal" textLength="47.8" lengthAdjust="spacingAndGlyphs" >1.17000</text>
<text x="1115.8" y="197.9" font-family="Liberation Sans, sans-serif" font-size="12" fill="#131722" letter-spacing="0" text-anchor="start" font-weight="normal" textLength="47.8" lengthAdjust="spacingAndGlyphs" >1.16500</text>
<text x="1115.8" y="239.05" font-family="Liberation Sans, sans-serif" font-size="12" fill="#131722" letter-spacing="0" text-anchor="start" font-weight="normal" textLength="47.8" lengthAdjust="spacingAndGlyphs" >1.16000</text>
<text x="1115.8" y="280.19999999999993" font-family="Liberation Sans, sans-serif" font-size="12" fill="#131722" letter-spacing="0" text-anchor="start" font-weight="normal" textLength="47.8" lengthAdjust="spacingAndGlyphs" >1.15500</text>
<text x="1115.8" y="321.34999999999997" font-family="Liberation Sans, sans-serif" font-size="12" fill="#131722" letter-spacing="0" text-anchor="start" font-weight="normal" textLength="47.8" lengthAdjust="spacingAndGlyphs" >1.15000</text>
<text x="1115.8" y="362.49999999999994" font-family="Liberation Sans, sans-serif" font-size="12" fill="#131722" letter-spacing="0" text-anchor="start" font-weight="normal" textLength="47.8" lengthAdjust="spacingAndGlyphs" >1.14500</text>
<text x="1115.8" y="403.6499999999999" font-family="Liberation Sans, sans-serif" font-size="12" fill="#131722" letter-spacing="0" text-anchor="start" font-weight="normal" textLength="47.8" lengthAdjust="spacingAndGlyphs" >1.14000</text>
<g clip-path="url(#cs1)">
<text x="1116" y="435.2" font-family="Liberation Sans, sans-serif" font-size="12" fill="#131722" letter-spacing="0" text-anchor="start" font-weight="normal" textLength="47.3" lengthAdjust="spacingAndGlyphs" >0.01000</text>
</g>
<g clip-path="url(#cs2)">
<text x="1115.5" y="512.6" font-family="Liberation Sans, sans-serif" font-size="12" fill="#131722" letter-spacing="0" text-anchor="start" font-weight="normal" textLength="32.6" lengthAdjust="spacingAndGlyphs" >80.00</text>
<text x="1115.5" y="554.7" font-family="Liberation Sans, sans-serif" font-size="12" fill="#131722" letter-spacing="0" text-anchor="start" font-weight="normal" textLength="32.6" lengthAdjust="spacingAndGlyphs" >40.00</text>
</g>
<path d="M1107 166.0 H1166.5 Q1169 166.0 1169 168.5 V180.5 Q1169 183.0 1166.5 183.0 H1107 Z" fill="#F23645"/>
<text x="1116" y="178.8" font-family="Liberation Sans, sans-serif" font-size="12" fill="#fff" letter-spacing="0" text-anchor="start" font-weight="normal" textLength="47.3" lengthAdjust="spacingAndGlyphs" >1.16733</text>
<path d="M1107 196.0 H1166.5 Q1169 196.0 1169 198.5 V210.5 Q1169 213.0 1166.5 213.0 H1107 Z" fill="#F23645"/>
<text x="1116" y="208.8" font-family="Liberation Sans, sans-serif" font-size="12" fill="#fff" letter-spacing="0" text-anchor="start" font-weight="normal" textLength="47.3" lengthAdjust="spacingAndGlyphs" >1.16371</text>
<path d="M1107 277.0 H1166.5 Q1169 277.0 1169 279.5 V291.5 Q1169 294.0 1166.5 294.0 H1107 Z" fill="#089981"/>
<text x="1116" y="289.8" font-family="Liberation Sans, sans-serif" font-size="12" fill="#fff" letter-spacing="0" text-anchor="start" font-weight="normal" textLength="47.3" lengthAdjust="spacingAndGlyphs" >1.15494</text>
<path d="M1107 260.0 H1166.5 Q1169 260.0 1169 262.5 V274.5 Q1169 277.0 1166.5 277.0 H1107 Z" fill="#089981"/>
<text x="1116" y="272.8" font-family="Liberation Sans, sans-serif" font-size="12" fill="#fff" letter-spacing="0" text-anchor="start" font-weight="normal" textLength="47.3" lengthAdjust="spacingAndGlyphs" >1.15597</text>
<path d="M1107 323.0 H1166.5 Q1169 323.0 1169 325.5 V337.5 Q1169 340.0 1166.5 340.0 H1107 Z" fill="#089981"/>
<text x="1116" y="335.8" font-family="Liberation Sans, sans-serif" font-size="12" fill="#fff" letter-spacing="0" text-anchor="start" font-weight="normal" textLength="47.3" lengthAdjust="spacingAndGlyphs" >1.14826</text>
<path d="M1107 441.0 H1166.5 Q1169 441.0 1169 443.5 V455.5 Q1169 458.0 1166.5 458.0 H1107 Z" fill="#FF6D00"/>
<text x="1116" y="453.8" font-family="Liberation Sans, sans-serif" font-size="12" fill="#fff" letter-spacing="0" text-anchor="start" font-weight="normal" textLength="47.3" lengthAdjust="spacingAndGlyphs" >0.00106</text>
<path d="M1107 458.0 H1166.5 Q1169 458.0 1169 460.5 V472.5 Q1169 475.0 1166.5 475.0 H1107 Z" fill="#2196F3"/>
<text x="1116" y="470.8" font-family="Liberation Sans, sans-serif" font-size="12" fill="#fff" letter-spacing="0" text-anchor="start" font-weight="normal" textLength="47.3" lengthAdjust="spacingAndGlyphs" >0.00038</text>
<path d="M1107 475.0 H1172.5 Q1175 475.0 1175 477.5 V489.5 Q1175 492.0 1172.5 492.0 H1107 Z" fill="#FFCDD2"/>
<text x="1116" y="487.8" font-family="Liberation Sans, sans-serif" font-size="12" fill="#131722" letter-spacing="0" text-anchor="start" font-weight="normal" textLength="52.9" lengthAdjust="spacingAndGlyphs" >-0.00067</text>
<path d="M1107 533.0 H1151.5 Q1154 533.0 1154 535.5 V547.5 Q1154 550.0 1151.5 550.0 H1107 Z" fill="#9C56C4"/>
<text x="1116" y="545.8" font-family="Liberation Sans, sans-serif" font-size="12" fill="#fff" letter-spacing="0" text-anchor="start" font-weight="normal" textLength="32.7" lengthAdjust="spacingAndGlyphs" >47.82</text>
<text x="9.6" y="21.3" font-family="Liberation Sans, sans-serif" font-size="12.6" fill="#131722" letter-spacing="0" text-anchor="start" font-weight="normal" textLength="102.9" lengthAdjust="spacingAndGlyphs" >EUR/USD Spot, 4h</text>
<text x="120.6" y="21.3" font-family="Liberation Sans, sans-serif" font-size="12.6" fill="#131722" letter-spacing="0" text-anchor="start" font-weight="normal" textLength="7.9" lengthAdjust="spacingAndGlyphs" >O</text>
<text x="129.8" y="21.3" font-family="Liberation Sans, sans-serif" font-size="12.6" fill="#089981" letter-spacing="0" text-anchor="start" font-weight="normal" textLength="43.1" lengthAdjust="spacingAndGlyphs" >1.15540</text>
<text x="181" y="21.3" font-family="Liberation Sans, sans-serif" font-size="12.6" fill="#131722" letter-spacing="0" text-anchor="start" font-weight="normal" textLength="7.2" lengthAdjust="spacingAndGlyphs" >H</text>
<text x="190" y="21.3" font-family="Liberation Sans, sans-serif" font-size="12.6" fill="#089981" letter-spacing="0" text-anchor="start" font-weight="normal" textLength="42.5" lengthAdjust="spacingAndGlyphs" >1.15606</text>
<text x="240.6" y="21.3" font-family="Liberation Sans, sans-serif" font-size="12.6" fill="#131722" letter-spacing="0" text-anchor="start" font-weight="normal" textLength="5.5" lengthAdjust="spacingAndGlyphs" >L</text>
<text x="247.3" y="21.3" font-family="Liberation Sans, sans-serif" font-size="12.6" fill="#089981" letter-spacing="0" text-anchor="start" font-weight="normal" textLength="42.3" lengthAdjust="spacingAndGlyphs" >1.15475</text>
<text x="297.7" y="21.3" font-family="Liberation Sans, sans-serif" font-size="12.6" fill="#131722" letter-spacing="0" text-anchor="start" font-weight="normal" textLength="7.3" lengthAdjust="spacingAndGlyphs" >C</text>
<text x="305.7" y="21.3" font-family="Liberation Sans, sans-serif" font-size="12.6" fill="#089981" letter-spacing="0" text-anchor="start" font-weight="normal" textLength="42.3" lengthAdjust="spacingAndGlyphs" >1.15597</text>
<text x="356.1" y="21.3" font-family="Liberation Sans, sans-serif" font-size="12.6" fill="#089981" letter-spacing="0" text-anchor="start" font-weight="normal" textLength="46.4" lengthAdjust="spacingAndGlyphs" >0.00059</text>
<text x="408" y="21.3" font-family="Liberation Sans, sans-serif" font-size="12.6" fill="#089981" letter-spacing="0" text-anchor="start" font-weight="normal" textLength="51.2" lengthAdjust="spacingAndGlyphs" >(+0.05%)</text>
<text x="9.5" y="448.2" font-family="Liberation Sans, sans-serif" font-size="12.6" fill="#131722" letter-spacing="0" text-anchor="start" font-weight="normal" textLength="132.1" lengthAdjust="spacingAndGlyphs" >MACD (12, 26, close, 9)</text>
<text x="150" y="448.2" font-family="Liberation Sans, sans-serif" font-size="12.6" fill="#FFCDD2" letter-spacing="0" text-anchor="start" font-weight="normal" textLength="52" lengthAdjust="spacingAndGlyphs" >-0.00067</text>
<text x="209.4" y="448.2" font-family="Liberation Sans, sans-serif" font-size="12.6" fill="#2196F3" letter-spacing="0" text-anchor="start" font-weight="normal" textLength="46.9" lengthAdjust="spacingAndGlyphs" >0.00038</text>
<text x="264.4" y="448.2" font-family="Liberation Sans, sans-serif" font-size="12.6" fill="#FF6D00" letter-spacing="0" text-anchor="start" font-weight="normal" textLength="44.8" lengthAdjust="spacingAndGlyphs" >0.00106</text>
<text x="9.5" y="524.9" font-family="Liberation Sans, sans-serif" font-size="12.6" fill="#131722" letter-spacing="0" text-anchor="start" font-weight="normal" textLength="43" lengthAdjust="spacingAndGlyphs" >RSI (14)</text>
<text x="61" y="524.9" font-family="Liberation Sans, sans-serif" font-size="12.6" fill="#9C56C4" letter-spacing="0" text-anchor="start" font-weight="normal" textLength="30.2" lengthAdjust="spacingAndGlyphs" >47.82</text>
<text x="68.5" y="591" font-family="Liberation Sans, sans-serif" font-size="12" fill="#131722" letter-spacing="0" text-anchor="middle" font-weight="normal"  >24</text>
<text x="148.5" y="591" font-family="Liberation Sans, sans-serif" font-size="12" fill="#131722" letter-spacing="0" text-anchor="middle" font-weight="normal"  >26</text>
<text x="229.5" y="591" font-family="Liberation Sans, sans-serif" font-size="12" fill="#131722" letter-spacing="0" text-anchor="middle" font-weight="bold"  >Mar</text>
<text x="309.5" y="591" font-family="Liberation Sans, sans-serif" font-size="12" fill="#131722" letter-spacing="0" text-anchor="middle" font-weight="normal"  >4</text>
<text x="389.5" y="591" font-family="Liberation Sans, sans-serif" font-size="12" fill="#131722" letter-spacing="0" text-anchor="middle" font-weight="normal"  >6</text>
<text x="469.5" y="591" font-family="Liberation Sans, sans-serif" font-size="12" fill="#131722" letter-spacing="0" text-anchor="middle" font-weight="normal"  >10</text>
<text x="550.5" y="591" font-family="Liberation Sans, sans-serif" font-size="12" fill="#131722" letter-spacing="0" text-anchor="middle" font-weight="normal"  >12</text>
<text x="630.5" y="591" font-family="Liberation Sans, sans-serif" font-size="12" fill="#131722" letter-spacing="0" text-anchor="middle" font-weight="normal"  >15</text>
<text x="710.5" y="591" font-family="Liberation Sans, sans-serif" font-size="12" fill="#131722" letter-spacing="0" text-anchor="middle" font-weight="normal"  >18</text>
<text x="791.5" y="591" font-family="Liberation Sans, sans-serif" font-size="12" fill="#131722" letter-spacing="0" text-anchor="middle" font-weight="normal"  >20</text>
<text x="871.5" y="591" font-family="Liberation Sans, sans-serif" font-size="12" fill="#131722" letter-spacing="0" text-anchor="middle" font-weight="normal"  >24</text>
<text x="951.5" y="591" font-family="Liberation Sans, sans-serif" font-size="12" fill="#131722" letter-spacing="0" text-anchor="middle" font-weight="normal"  >26</text>
<text x="1031.5" y="591" font-family="Liberation Sans, sans-serif" font-size="12" fill="#131722" letter-spacing="0" text-anchor="middle" font-weight="normal"  >29</text>
<path d="M0 0H1180V601H0Z M1.6 1.6V599.4H1178.4V1.6Z" fill="#f0f2f8" fill-rule="evenodd"/>
</svg></body></html>
